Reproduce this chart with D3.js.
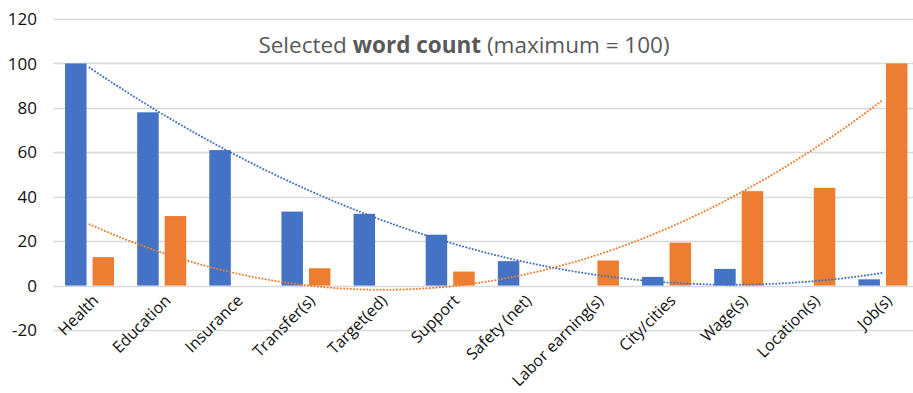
<!DOCTYPE html>
<html>
<head>
<meta charset="utf-8">
<script src="https://cdn.jsdelivr.net/npm/d3@7"></script>
<style>
  body { margin: 0; background: #fff; }
  svg { display: block; font-family: "Open Sans", "Noto Sans", sans-serif; }
</style>
</head>
<body>
<div id="chart"></div>
<script>
// categories and the two series
const categories = ["Health", "Education", "Insurance", "Transfer(s)", "Target(ed)", "Support",
  "Safety (net)", "Labor earning(s)", "City/cities", "Wage(s)", "Location(s)", "Job(s)"];
const blueValues = [100, 78, 61, 33.3, 32.3, 22.9, 11, 0, 3.9, 7.5, 0, 2.8];
const orangeValues = [12.8, 31.3, 0, 7.8, 0, 6.3, 0, 11.3, 19.3, 42.5, 44, 100];
const yTicks = [-20, 0, 20, 40, 60, 80, 100, 120];

const W = 913, H = 393;
const margin = { top: 19, right: -6, bottom: 63, left: 53.5 };

const svg = d3.select("#chart").append("svg")
  .attr("width", W)
  .attr("height", H);

const x = d3.scaleBand()
  .domain(categories)
  .range([margin.left, W - margin.right]);

const y = d3.scaleLinear()
  .domain([-20, 120])
  .range([H - margin.bottom, margin.top]);

const series = [
  { name: "blue", values: blueValues, color: "#4472C4" },
  { name: "orange", values: orangeValues, color: "#ED7D31" }
];
const barW = 21.5, barGap = 6;

// gridlines
svg.append("g")
  .selectAll("line")
  .data(yTicks)
  .join("line")
  .attr("x1", margin.left)
  .attr("x2", W)
  .attr("y1", d => Math.round(y(d)) + 0.5)
  .attr("y2", d => Math.round(y(d)) + 0.5)
  .attr("stroke", "#d9d9d9")
  .attr("stroke-width", 1.3);

// y axis labels
svg.append("g")
  .selectAll("text")
  .data(yTicks)
  .join("text")
  .attr("x", 37)
  .attr("y", d => y(d))
  .attr("dy", "0.36em")
  .attr("text-anchor", "end")
  .style("font-size", "17px")
  .style("fill", "#111")
  .text(d => d);

// bars
series.forEach((s, i) => {
  const offset = i === 0 ? -(barW + barGap / 2) : barGap / 2;
  svg.append("g")
    .selectAll("rect")
    .data(categories.map((c, j) => ({ c, v: s.values[j] })))
    .join("rect")
    .attr("x", d => x(d.c) + x.bandwidth() / 2 + offset)
    .attr("y", d => y(Math.max(0, d.v)))
    .attr("width", barW)
    .attr("height", d => Math.abs(y(d.v) - y(0)))
    .attr("fill", s.color);
});

// polynomial (order 2) trendlines, least squares on category index 1..n
function quadFit(vals) {
  let s = [0, 0, 0, 0, 0], t = [0, 0, 0];
  vals.forEach((v, i) => {
    const xi = i + 1;
    for (let k = 0; k < 5; k++) s[k] += Math.pow(xi, k);
    for (let k = 0; k < 3; k++) t[k] += v * Math.pow(xi, k);
  });
  const A = [[s[0], s[1], s[2], t[0]], [s[1], s[2], s[3], t[1]], [s[2], s[3], s[4], t[2]]];
  for (let c = 0; c < 3; c++) {
    for (let r = c + 1; r < 3; r++) {
      const f = A[r][c] / A[c][c];
      for (let k = c; k < 4; k++) A[r][k] -= f * A[c][k];
    }
  }
  const b = [0, 0, 0];
  for (let r = 2; r >= 0; r--) {
    let sum = A[r][3];
    for (let k = r + 1; k < 3; k++) sum -= A[r][k] * b[k];
    b[r] = sum / A[r][r];
  }
  return xi => b[0] + b[1] * xi + b[2] * xi * xi;
}

const idx = d3.scaleLinear()
  .domain([1, categories.length])
  .range([x(categories[0]) + x.bandwidth() / 2, x(categories[categories.length - 1]) + x.bandwidth() / 2]);

const line = d3.line()
  .x(d => idx(d[0]))
  .y(d => y(d[1]))
  .curve(d3.curveBasis);

series.forEach(s => {
  const f = quadFit(s.values);
  const pts = d3.range(1, categories.length + 0.001, 0.1).map(t => [t, f(t)]);
  svg.append("path")
    .datum(pts)
    .attr("d", line)
    .attr("fill", "none")
    .attr("stroke", s.color)
    .attr("stroke-width", 2)
    .attr("stroke-dasharray", "0.1 3.2")
    .attr("stroke-linecap", "round");
});

// category labels, rotated
svg.append("g")
  .selectAll("text")
  .data(categories)
  .join("text")
  .attr("transform", d => `translate(${x(d) + x.bandwidth() / 2 + 10}, ${y(0) + 16}) rotate(-45)`)
  .attr("text-anchor", "end")
  .style("font-size", "16px")
  .style("fill", "#111")
  .text(d => d);

// title
const title = svg.append("text")
  .attr("x", 464)
  .attr("y", 53)
  .attr("text-anchor", "middle")
  .style("font-size", "22.5px")
  .style("fill", "#595959");
title.append("tspan").text("Selected ");
title.append("tspan").style("font-weight", "bold").text("word count");
title.append("tspan").text(" (maximum = 100)");
</script>
</body>
</html>
